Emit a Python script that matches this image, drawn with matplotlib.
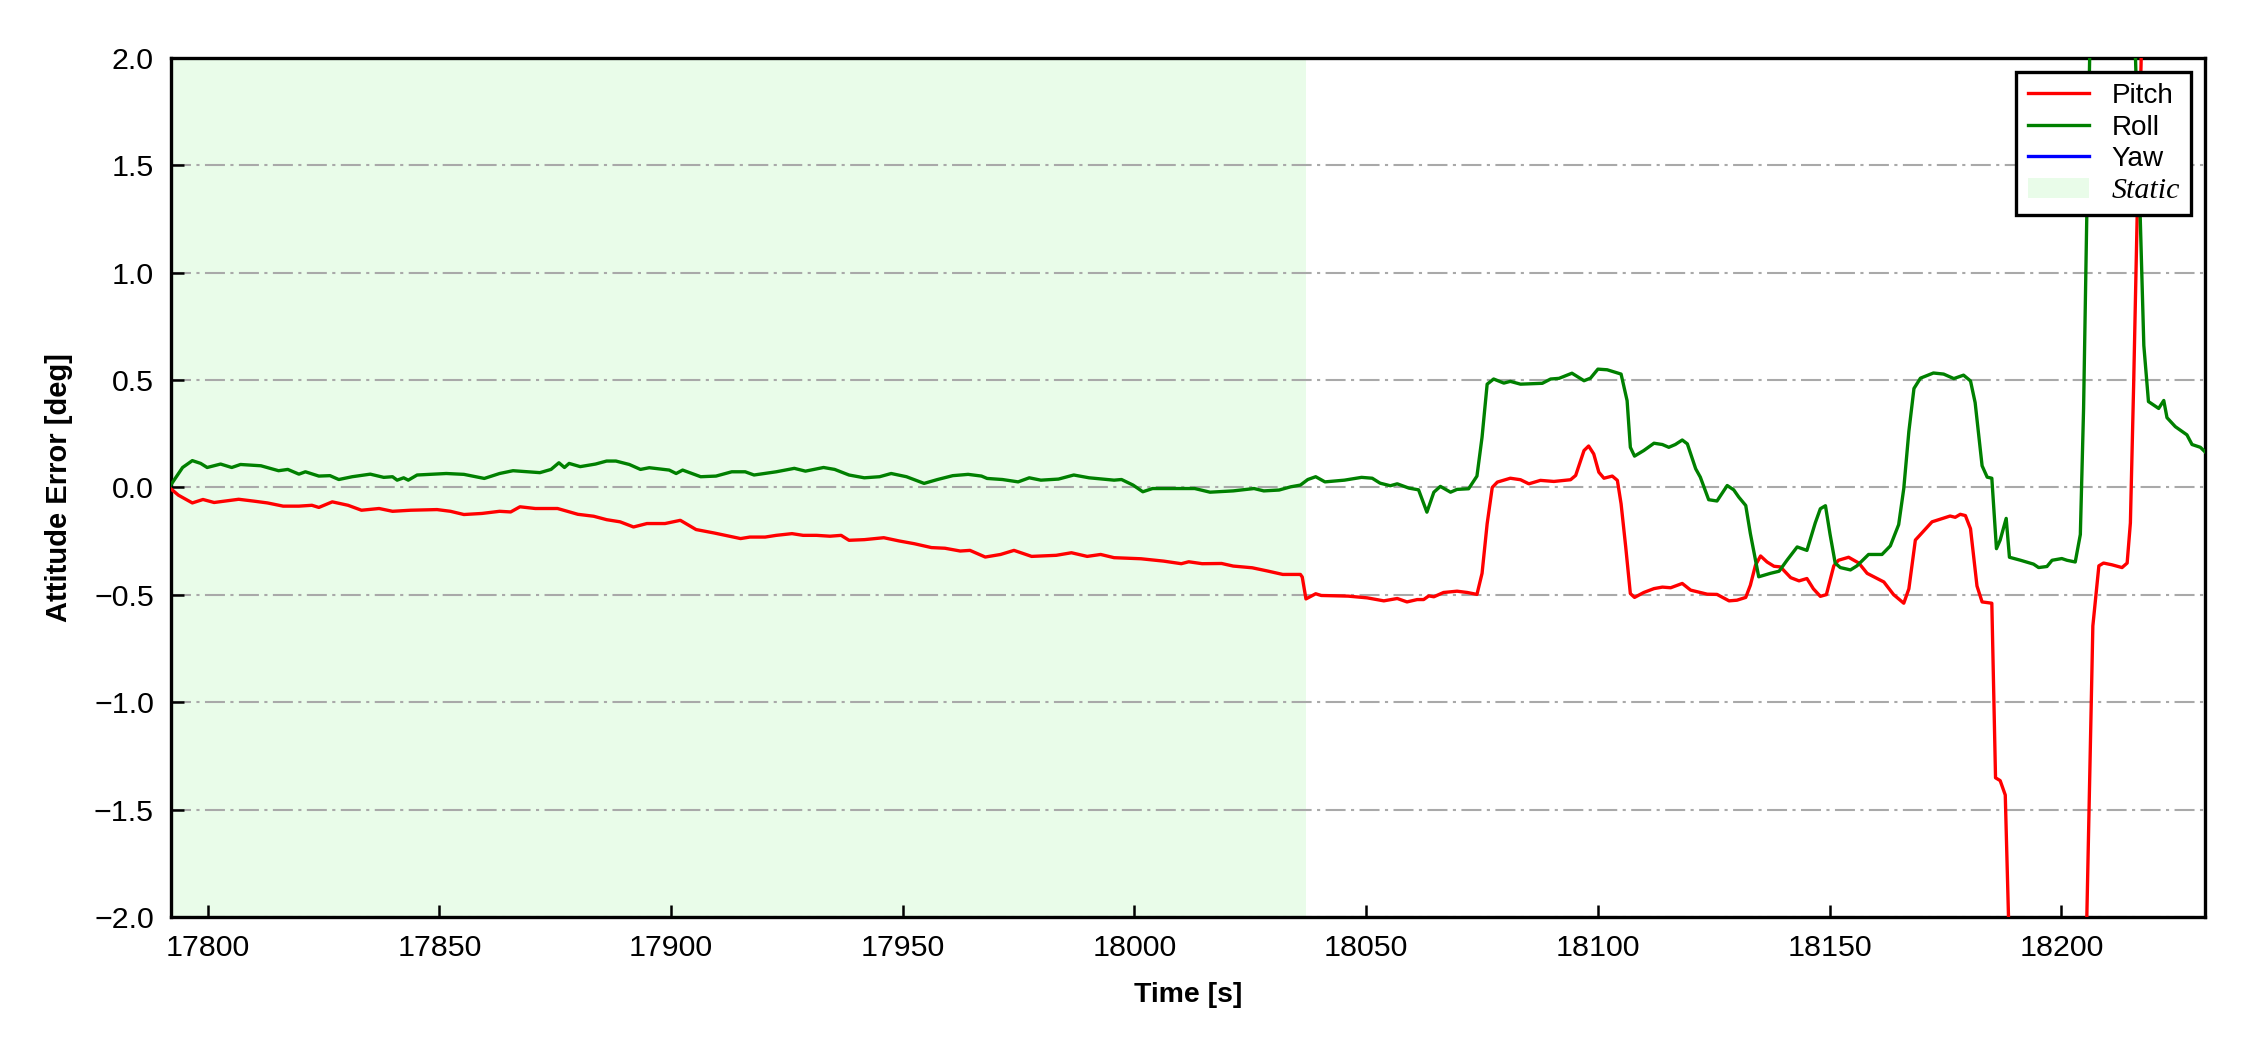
import matplotlib
matplotlib.use("Agg")
import matplotlib.pyplot as plt

plt.rcParams['font.family'] = ['Liberation Sans', 'DejaVu Sans']

# ---------------- data ----------------
pitch_t = [17792.0, 17793.7, 17796.7, 17799.0, 17801.4, 17804.3, 17806.7, 17810.1, 17812.9, 17816.3,
           17819.7, 17822.5, 17824.0, 17826.9, 17830.3, 17833.2, 17837.0, 17839.9, 17843.8, 17849.5,
           17852.4, 17855.3, 17859.2, 17863.0, 17865.4, 17867.4, 17870.7, 17875.5, 17879.9, 17883.3,
           17886.1, 17889.0, 17891.9, 17894.8, 17898.7, 17902.0, 17905.4, 17909.3, 17911.7, 17915.0,
           17917.0, 17920.3, 17922.7, 17926.1, 17928.5, 17931.4, 17934.3, 17936.7, 17938.4, 17941.7,
           17945.9, 17949.2, 17952.5, 17956.2, 17959.1, 17962.4, 17964.5, 17967.8, 17971.1, 17974.0,
           17977.8, 17983.1, 17986.4, 17989.8, 17992.7, 17995.6, 18001.4, 18006.3, 18010.1, 18011.7,
           18014.6, 18018.8, 18021.3, 18025.4, 18028.7, 18032.0, 18035.8, 18036.2, 18037.0, 18039.1,
           18040.3, 18046.1, 18050.2, 18053.8, 18056.7, 18058.8, 18061.0, 18062.4, 18063.5, 18064.6,
           18066.7, 18069.6, 18071.8, 18073.9, 18075.0, 18076.1, 18077.2, 18078.3, 18081.1, 18083.3,
           18085.1, 18087.6, 18090.5, 18094.1, 18095.2, 18097.0, 18098.0, 18099.1, 18100.2, 18101.3,
           18103.1, 18104.2, 18105.0, 18106.0, 18107.0, 18107.9, 18109.9, 18112.1, 18113.9, 18115.7,
           18118.2, 18120.0, 18122.1, 18123.6, 18125.7, 18128.3, 18130.0, 18131.9, 18132.9, 18134.0,
           18135.1, 18136.5, 18138.0, 18139.4, 18141.6, 18143.4, 18145.1, 18146.5, 18148.0, 18149.3,
           18150.9, 18151.9, 18154.1, 18156.3, 18158.1, 18161.7, 18163.8, 18166.0, 18167.1, 18168.5,
           18169.6, 18172.1, 18176.0, 18177.1, 18178.2, 18179.3, 18180.4, 18181.8, 18182.9, 18185.0,
           18185.8, 18186.8, 18187.9, 18188.6, 18189.3, 18204.9, 18205.5, 18206.8, 18208.1, 18209.1,
           18210.9, 18213.1, 18214.2, 18214.9, 18215.6, 18216.5, 18217.2, 18217.8]
pitch_v = [-0.005, -0.036, -0.072, -0.056, -0.070, -0.062, -0.055, -0.064, -0.072, -0.087,
           -0.087, -0.083, -0.093, -0.067, -0.083, -0.106, -0.098, -0.111, -0.106, -0.103,
           -0.111, -0.126, -0.121, -0.111, -0.114, -0.090, -0.098, -0.098, -0.125, -0.134,
           -0.150, -0.160, -0.184, -0.168, -0.168, -0.153, -0.196, -0.212, -0.223, -0.238,
           -0.231, -0.231, -0.223, -0.215, -0.223, -0.223, -0.227, -0.223, -0.246, -0.243,
           -0.234, -0.249, -0.262, -0.280, -0.283, -0.296, -0.293, -0.324, -0.312, -0.293,
           -0.321, -0.316, -0.304, -0.321, -0.312, -0.327, -0.332, -0.343, -0.355, -0.346,
           -0.355, -0.354, -0.366, -0.374, -0.389, -0.405, -0.405, -0.417, -0.519, -0.495,
           -0.503, -0.506, -0.514, -0.528, -0.517, -0.533, -0.522, -0.522, -0.505, -0.509,
           -0.489, -0.483, -0.489, -0.498, -0.400, -0.169, 0.000, 0.025, 0.043, 0.036,
           0.017, 0.033, 0.028, 0.036, 0.056, 0.172, 0.193, 0.156, 0.071, 0.043,
           0.053, 0.033, -0.076, -0.277, -0.494, -0.512, -0.489, -0.471, -0.464, -0.467,
           -0.447, -0.478, -0.489, -0.497, -0.498, -0.528, -0.525, -0.512, -0.455, -0.362,
           -0.319, -0.347, -0.367, -0.370, -0.420, -0.435, -0.424, -0.472, -0.507, -0.499,
           -0.365, -0.339, -0.325, -0.352, -0.400, -0.440, -0.499, -0.539, -0.472, -0.245,
           -0.219, -0.160, -0.133, -0.139, -0.125, -0.131, -0.192, -0.459, -0.533, -0.539,
           -1.352, -1.365, -1.432, -2.000, -2.600, -2.600, -2.000, -0.645, -0.365, -0.352,
           -0.360, -0.373, -0.352, -0.165, 0.475, 1.408, 1.968, 2.600]

roll_t = [17792.0, 17794.6, 17796.7, 17798.5, 17799.9, 17802.8, 17805.2, 17807.1, 17811.5, 17815.3,
          17817.3, 17819.7, 17821.1, 17824.0, 17826.4, 17828.3, 17831.2, 17835.1, 17838.0, 17839.9,
          17840.9, 17842.3, 17843.3, 17845.2, 17851.5, 17855.3, 17859.7, 17863.0, 17865.9, 17871.7,
          17874.1, 17875.8, 17877.0, 17878.0, 17880.4, 17883.7, 17886.1, 17888.1, 17891.0, 17893.4,
          17895.3, 17899.6, 17901.1, 17902.5, 17906.4, 17909.7, 17913.1, 17916.0, 17917.9, 17922.7,
          17926.6, 17929.0, 17932.9, 17935.3, 17938.4, 17941.7, 17945.0, 17947.5, 17950.8, 17954.6,
          17957.5, 17960.8, 17964.1, 17967.0, 17968.2, 17971.5, 17974.9, 17977.3, 17979.8, 17983.6,
          17986.9, 17990.2, 17995.6, 17997.2, 17999.7, 18001.8, 18003.9, 18007.2, 18013.0, 18016.3,
          18021.3, 18025.8, 18027.9, 18031.2, 18033.7, 18035.8, 18037.4, 18039.1, 18041.1, 18045.3,
          18049.0, 18051.3, 18053.0, 18055.2, 18056.7, 18059.2, 18061.3, 18063.1, 18064.6, 18066.0,
          18068.2, 18069.6, 18072.1, 18073.9, 18075.0, 18076.1, 18077.5, 18079.7, 18081.1, 18083.3,
          18088.0, 18089.8, 18091.6, 18094.4, 18097.0, 18098.4, 18100.0, 18102.0, 18105.0, 18106.3,
          18107.0, 18107.9, 18109.9, 18112.1, 18113.9, 18115.3, 18116.7, 18118.2, 18119.3, 18121.1,
          18122.1, 18123.9, 18125.7, 18127.9, 18129.3, 18130.4, 18131.9, 18132.9, 18134.7, 18137.2,
          18139.1, 18140.8, 18143.0, 18145.1, 18146.9, 18148.0, 18149.1, 18150.1, 18151.2, 18152.3,
          18154.5, 18155.9, 18158.4, 18161.3, 18163.1, 18164.9, 18166.0, 18167.1, 18168.2, 18169.6,
          18172.4, 18174.6, 18176.8, 18178.9, 18180.4, 18181.4, 18182.9, 18184.0, 18185.0, 18186.0,
          18186.8, 18188.1, 18188.8, 18191.2, 18194.0, 18195.1, 18196.9, 18198.0, 18200.1, 18201.2,
          18203.0, 18204.1, 18204.8, 18205.5, 18206.1, 18206.6, 18215.6, 18216.0, 18217.0, 18217.8,
          18218.8, 18221.0, 18222.1, 18222.8, 18224.6, 18227.1, 18228.2, 18230.0, 18231.3]
roll_v = [0.010, 0.093, 0.125, 0.112, 0.093, 0.109, 0.093, 0.107, 0.101, 0.078,
          0.084, 0.062, 0.073, 0.053, 0.055, 0.037, 0.050, 0.062, 0.047, 0.050,
          0.034, 0.045, 0.034, 0.058, 0.065, 0.061, 0.042, 0.065, 0.078, 0.069,
          0.084, 0.115, 0.093, 0.112, 0.097, 0.109, 0.123, 0.123, 0.107, 0.084,
          0.092, 0.081, 0.065, 0.081, 0.050, 0.053, 0.073, 0.073, 0.058, 0.073,
          0.089, 0.076, 0.093, 0.084, 0.058, 0.045, 0.050, 0.065, 0.050, 0.019,
          0.037, 0.055, 0.061, 0.053, 0.042, 0.037, 0.026, 0.045, 0.034, 0.039,
          0.058, 0.045, 0.034, 0.037, 0.011, -0.020, -0.005, -0.005, -0.005, -0.022,
          -0.016, -0.005, -0.016, -0.012, 0.003, 0.011, 0.037, 0.050, 0.026, 0.034,
          0.047, 0.043, 0.020, 0.008, 0.017, -0.003, -0.011, -0.115, -0.022, 0.005,
          -0.022, -0.009, -0.006, 0.053, 0.234, 0.481, 0.505, 0.486, 0.494, 0.481,
          0.485, 0.505, 0.508, 0.532, 0.497, 0.509, 0.551, 0.548, 0.528, 0.404,
          0.187, 0.146, 0.172, 0.206, 0.200, 0.187, 0.200, 0.221, 0.203, 0.087,
          0.048, -0.057, -0.063, 0.009, -0.011, -0.045, -0.084, -0.215, -0.416, -0.400,
          -0.390, -0.339, -0.277, -0.293, -0.165, -0.099, -0.085, -0.219, -0.352, -0.373,
          -0.384, -0.365, -0.312, -0.312, -0.272, -0.173, -0.005, 0.261, 0.461, 0.509,
          0.533, 0.528, 0.507, 0.523, 0.496, 0.395, 0.101, 0.048, 0.043, -0.285,
          -0.245, -0.144, -0.325, -0.339, -0.357, -0.373, -0.368, -0.339, -0.331, -0.339,
          -0.347, -0.219, 0.368, 1.275, 1.968, 2.600, 2.600, 2.000, 1.275, 0.661,
          0.400, 0.368, 0.405, 0.325, 0.283, 0.245, 0.200, 0.187, 0.160]

# Yaw is listed in the legend but no yaw trace is visible inside the plotted range
yaw_t = []
yaw_v = []

static_start = 17792.0
static_end = 18037.0

x_limits = (17792.0, 18231.0)
y_limits = (-2.0, 2.0)
x_ticks = [17800, 17850, 17900, 17950, 18000, 18050, 18100, 18150, 18200]
y_ticks = [-2.0, -1.5, -1.0, -0.5, 0.0, 0.5, 1.0, 1.5, 2.0]

# ---------------- plot ----------------
fig = plt.figure(figsize=(7.5, 3.5), dpi=300)
ax = fig.add_axes([0.0758, 0.1267, 0.9042, 0.8181])

ax.axvspan(static_start, static_end, facecolor='#e9fce9', edgecolor='none', linewidth=0,
           zorder=0, label='Static')
ax.plot(pitch_t, pitch_v, color='#ff0000', lw=0.8, label='Pitch', zorder=3)
ax.plot(roll_t, roll_v, color='#008000', lw=0.8, label='Roll', zorder=3)
ax.plot(yaw_t, yaw_v, color='#0000ff', lw=0.8, label='Yaw', zorder=3)

ax.set_xlim(*x_limits)
ax.set_ylim(*y_limits)
ax.set_xticks(x_ticks)
ax.set_yticks(y_ticks)
ax.set_yticklabels([f"{v:.1f}".replace('-', '\u2212') for v in y_ticks])

ax.yaxis.grid(True, color='#a9a9a9', linewidth=0.5, linestyle=(0, (9.6, 2.6, 1.5, 2.6)))
ax.xaxis.grid(False)
ax.set_axisbelow(True)

ax.tick_params(axis='both', which='major', direction='in', length=3, width=0.6,
               labelsize=7.3, pad=4, top=False, right=False)
for sp in ax.spines.values():
    sp.set_linewidth(0.8)

ax.set_xlabel('Time [s]', fontsize=6.8, fontweight='bold', labelpad=5)
ax.set_ylabel('Attitude Error [deg]', fontsize=7.0, fontweight='bold', labelpad=5)

handles, labels = ax.get_legend_handles_labels()
order = [labels.index(n) for n in ['Pitch', 'Roll', 'Yaw', 'Static']]
leg = ax.legend([handles[i] for i in order], [labels[i] for i in order],
                loc='upper right', fontsize=6.7, frameon=True, fancybox=False,
                framealpha=1, edgecolor='black', labelspacing=0.2,
                handlelength=2.2, handletextpad=0.8, borderpad=0.4)
leg.get_frame().set_linewidth(0.8)
for txt in leg.get_texts():
    if txt.get_text() == 'Static':
        txt.set_fontfamily(['Liberation Serif', 'DejaVu Serif'])
        txt.set_fontstyle('italic')
        txt.set_fontsize(7.2)

fig.savefig('out.png', dpi=300)
